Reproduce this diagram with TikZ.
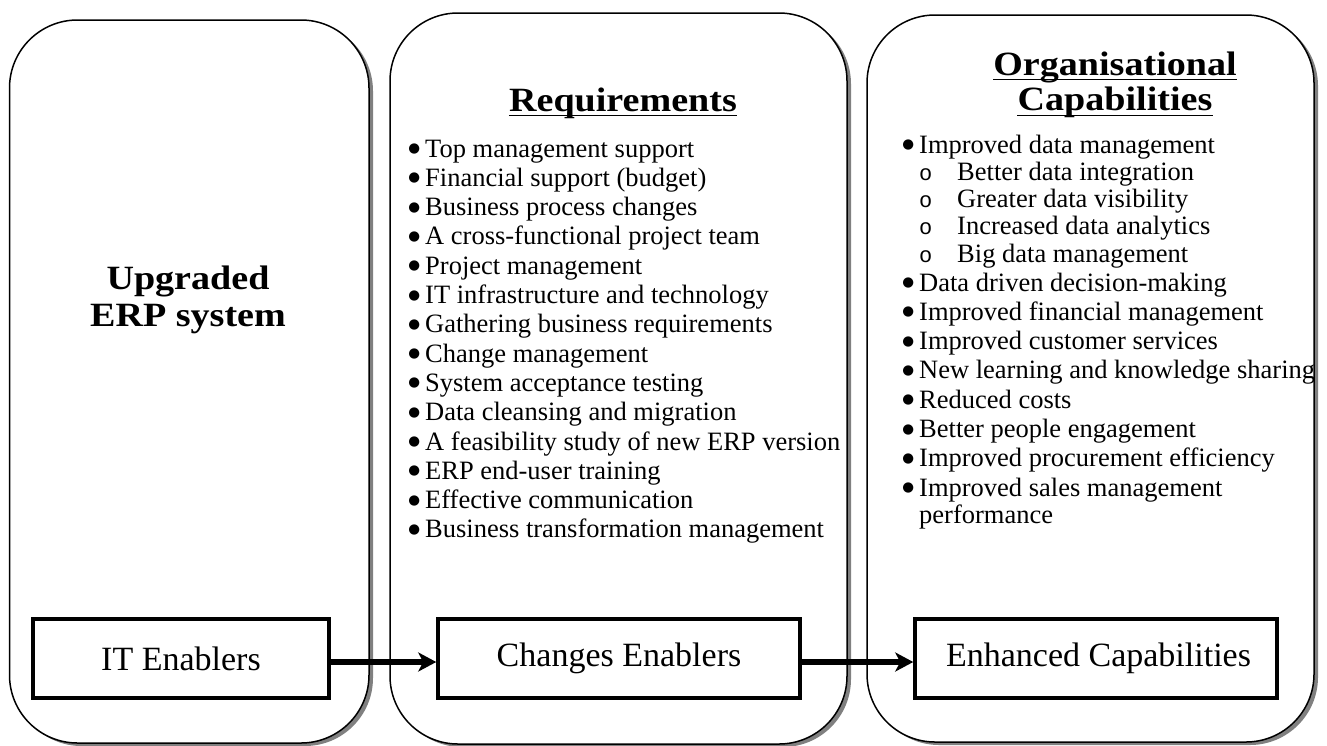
\documentclass[tikz,border=0pt]{standalone}
\usepackage{fontspec}
\setmainfont{Liberation Serif}
\newfontfamily\headfont[FakeStretch=1.12]{Liberation Serif}
\newfontfamily\subfont{Liberation Mono}
\newfontfamily\dotfont{DejaVu Sans}
\usetikzlibrary{arrows.meta,shadows}

% list markers set to the left of the item text
\newcommand{\submark}{\makebox[0pt][r]{\subfont\fontsize{22}{22}\selectfont o\hspace{25pt}}}
\newcommand{\mainmark}{\makebox[0pt][r]{\raisebox{4.5pt}{\dotfont\fontsize{13.5}{13.5}\selectfont ●}\hspace{5pt}}}

\begin{document}
\begin{tikzpicture}[x=1pt,y=-1pt,
  panel/.style={draw=black, line width=1.5pt, fill=white, rounded corners=68pt,
    inner sep=0pt, outer sep=0pt,
    drop shadow={shadow xshift=4pt, shadow yshift=-3pt, fill=black!50, opacity=1}},
  enabler/.style={draw=black, line width=3.5pt, fill=white, inner sep=0pt,
    font=\fontsize{34}{38}\selectfont},
  item/.style={anchor=base west, inner sep=0pt, font=\fontsize{26.5}{29}\selectfont},
  heading/.style={anchor=base, inner sep=0pt,
    font=\headfont\bfseries\fontsize{34}{38}\selectfont},
  uline/.style={line width=1.8pt},
  flow/.style={line width=5.5pt, -{Stealth[length=18pt,width=19pt,inset=5pt]}}
]
\useasboundingbox (0,0) rectangle (1327,745);

% the three columns
\node[panel, minimum width=359.5pt, minimum height=723pt] (p1) at (189.25,381.5) {};
\node[panel, minimum width=457pt, minimum height=731pt] (p2) at (618.5,378.5) {};
\node[panel, minimum width=447pt, minimum height=727pt] (p3) at (1090.5,378.5) {};

% left column title
\node[heading] (up1) at (188,289) {Upgraded};
\node[heading] (up2) at (188,326) {ERP system};

% middle column
\node[heading] (reqh) at (623,111) {Requirements};
\draw[uline] ([yshift=-4.5pt]reqh.base west) -- ([yshift=-4.5pt]reqh.base east);

\foreach \t [count=\i] in {
  Top management support,
  Financial support (budget),
  Business process changes,
  A cross-functional project team,
  Project management,
  IT infrastructure and technology,
  Gathering business requirements,
  Change management,
  System acceptance testing,
  Data cleansing and migration,
  A feasibility study of new ERP version,
  ERP end-user training,
  Effective communication,
  Business transformation management}
  \node[item] (req\i) at (425,{157+(\i-1)*29.3}) {\mainmark\t};

% right column
\node[heading] (orgh1) at (1115,75) {Organisational};
\node[heading] (orgh2) at (1115,110) {Capabilities};
\draw[uline] ([yshift=-4.5pt]orgh1.base west) -- ([yshift=-4.5pt]orgh1.base east);
\draw[uline] ([yshift=-5.5pt]orgh2.base west) -- ([yshift=-5.5pt]orgh2.base east);

\node[item] (org1) at (919,153) {\mainmark Improved data management};
\foreach \t [count=\i] in {
  Better data integration,
  Greater data visibility,
  Increased data analytics,
  Big data management}
  \node[item] (sub\i) at (957,{153+\i*27.3}) {\submark\t};

\foreach \t [count=\i] in {
  Data driven decision-making,
  Improved financial management,
  Improved customer services,
  New learning and knowledge sharing,
  Reduced costs,
  Better people engagement,
  Improved procurement efficiency,
  Improved sales management}
  \node[item] (org\the\numexpr\i+1\relax) at (919,{291+(\i-1)*29.3}) {\mainmark\t};
\node[item] (org10) at (919,523) {performance};

% enabler boxes and the flow between them
\node[enabler, minimum width=296pt, minimum height=79pt] (it) at (181,658.5) {IT Enablers\hspace{10pt}};
\node[enabler, minimum width=362pt, minimum height=79pt] (chg) at (619,658.5) {Changes Enablers};
\node[enabler, minimum width=362pt, minimum height=79pt] (enh) at (1096,658.5) {\hspace{5pt}Enhanced Capabilities};

\draw[flow] ([yshift=-3.5pt]it.east) -- ([yshift=-3.5pt]chg.west);
\draw[flow] ([yshift=-3.5pt]chg.east) -- ([yshift=-3.5pt]enh.west);
\end{tikzpicture}
\end{document}
